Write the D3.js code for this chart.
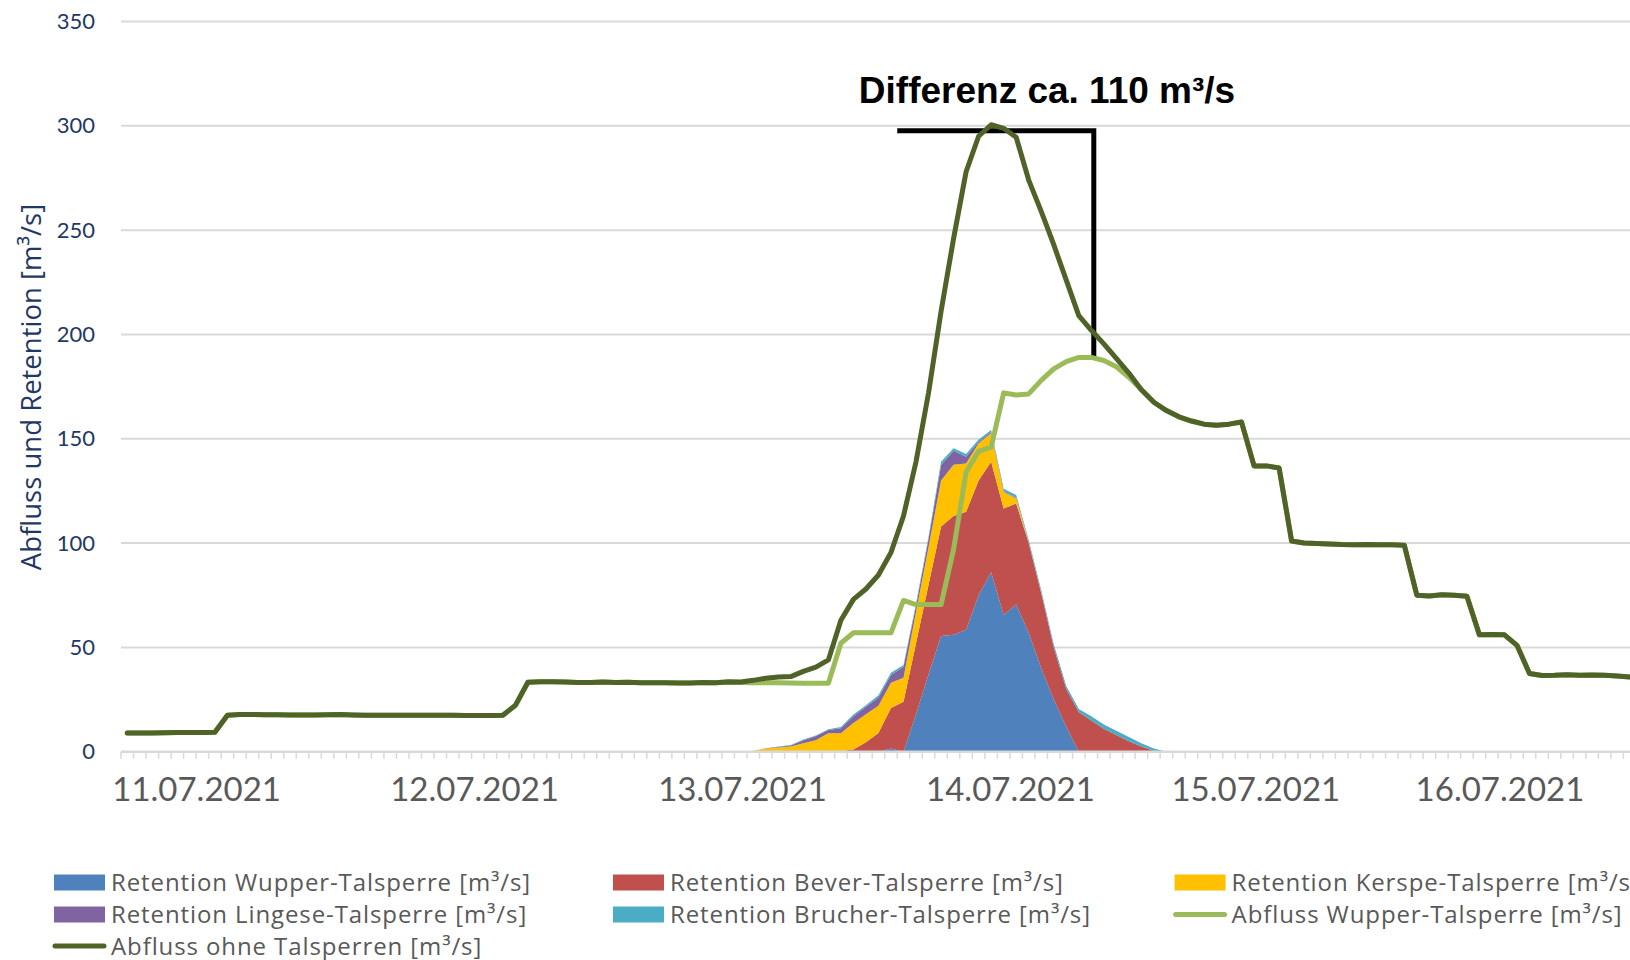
<!DOCTYPE html>
<html>
<head>
  <meta charset="utf-8">
  <title>Abfluss und Retention Wupper</title>
  <script src="https://cdn.jsdelivr.net/npm/d3@7"></script>
  <style>
    body { margin: 0; background: #ffffff; }
    text { font-family: Lato, sans-serif; }
  </style>
</head>
<body>
<script>
  // one category per time step, the date is only written where a day starts
  var nSteps = 121;
  var dayPos = [5.5, 27.7, 49.1, 70.5, 90.1, 109.6];
  var dayLabels = ["11.07.2021", "12.07.2021", "13.07.2021", "14.07.2021", "15.07.2021", "16.07.2021"];
  var yTicks = [0, 50, 100, 150, 200, 250, 300, 350];

  // stacked retention series [m3/s]
  var retWupper = [
    0,0,0,0,0,0,0,0,0,0, 0,0,0,0,0,0,0,0,0,0, 0,0,0,0,0,0,0,0,0,0,
    0,0,0,0,0,0,0,0,0,0, 0,0,0,0,0,0,0,0,0,0,
    0,0,0,0,0,0,0,0,0,0, 0,1.5,0,18,37,55.5,56,58.5,75,86,
    65.5,70.5,57,40,25,12,0,0,0,0, 0,0,0,0,0,0,0,0,0,0,
    0,0,0,0,0,0,0,0,0,0, 0,0,0,0,0,0,0,0,0,0, 0,0,0,0,0,0,0,0,0,0, 0
  ];
  var retBever = [
    0,0,0,0,0,0,0,0,0,0, 0,0,0,0,0,0,0,0,0,0, 0,0,0,0,0,0,0,0,0,0,
    0,0,0,0,0,0,0,0,0,0, 0,0,0,0,0,0,0,0,0,0,
    0,0,0,0,0,0,0,0.3,1,4.5, 9,19.5,24,34,43,52.5,57,56.5,55,53,
    51.1,48.5,43,36,25,18,19,15,11,8, 5,2.5,0.5,0,0,0,0,0,0,0,
    0,0,0,0,0,0,0,0,0,0, 0,0,0,0,0,0,0,0,0,0, 0,0,0,0,0,0,0,0,0,0, 0
  ];
  var retKerspe = [
    0,0,0,0,0,0,0,0,0,0, 0,0,0,0,0,0,0,0,0,0, 0,0,0,0,0,0,0,0,0,0,
    0,0,0,0,0,0,0,0,0,0, 0,0,0,0,0,0,0,0,0,0,
    0.5,1.5,2,2.5,4,5.5,8.8,8.5,12.8,13.5, 13,12,11.5,15,18,22,24.5,23.2,17.8,13.6,
    7.9,2.5,0.3,0.2,0,0,0,0,0,0, 0,0,0,0,0,0,0,0,0,0,
    0,0,0,0,0,0,0,0,0,0, 0,0,0,0,0,0,0,0,0,0, 0,0,0,0,0,0,0,0,0,0, 0
  ];
  var retLingese = [
    0,0,0,0,0,0,0,0,0,0, 0,0,0,0,0,0,0,0,0,0, 0,0,0,0,0,0,0,0,0,0,
    0,0,0,0,0,0,0,0,0,0, 0,0,0,0,0,0,0,0,0,0,
    0,0.1,0.3,0.5,1.5,2,1.6,2.4,3.2,3.5, 4,3.8,5.2,3,4,7.4,6.8,3.2,0.8,0.6,
    0.3,0.3,0.1,0.1,0,0,0,0,0,0, 0,0,0,0,0,0,0,0,0,0,
    0,0,0,0,0,0,0,0,0,0, 0,0,0,0,0,0,0,0,0,0, 0,0,0,0,0,0,0,0,0,0, 0
  ];
  var retBrucher = [
    0,0,0,0,0,0,0,0,0,0, 0,0,0,0,0,0,0,0,0,0, 0,0,0,0,0,0,0,0,0,0,
    0,0,0,0,0,0,0,0,0,0, 0,0,0,0,0,0,0,0,0,0,
    0,0.1,0.2,0.2,0.3,0.3,0.4,0.6,0.8,0.8, 1,1,0.8,1,1,1.6,1.1,1.3,1.1,1,
    1.2,1.2,1.1,1.2,1.5,1.5,1.5,2,2,2, 2,1.5,1,0,0,0,0,0,0,0,
    0,0,0,0,0,0,0,0,0,0, 0,0,0,0,0,0,0,0,0,0, 0,0,0,0,0,0,0,0,0,0, 0
  ];

  // discharge lines [m3/s]
  var abflussWupper = [
    9.0,9.0,9.0,9.1,9.2,9.2,9.2,9.3,17.5,17.8, 17.8,17.7,17.7,17.6,17.6,17.6,17.7,17.8,17.6,17.5,
    17.5,17.5,17.5,17.5,17.5,17.5,17.5,17.4,17.4,17.4, 17.5,22.2,33.3,33.5,33.5,33.4,33.2,33.2,33.4,33.2,
    33.3,33.1,33.1,33.0,32.9,32.9,33.2,33.1,33.3,33.2, 33.0,33.0,33.0,32.9,32.8,32.8,32.8,52.0,57.0,57.0,
    57.0,57.0,72.5,70.5,70.5,70.5,97.0,134.0,144.0,146.0, 172.0,171.0,171.5,178.0,183.5,187.0,189.0,189.0,187.5,184.5,
    179.5,173.5,167.5,163.5,160.5,158.5,157.0,156.5,157.0,158.0, 137.0,137.0,136.0,101.0,100.0,99.8,99.6,99.3,99.2,99.3,
    99.2,99.2,99.0,75.0,74.6,75.2,75.0,74.5,56.0,56.2, 56.0,51.0,37.5,36.5,36.6,36.9,36.7,36.8,36.6,36.3, 35.8
  ];
  var abflussOhne = [
    9.0,9.0,9.0,9.1,9.2,9.2,9.2,9.3,17.5,17.8, 17.8,17.7,17.7,17.6,17.6,17.6,17.7,17.8,17.6,17.5,
    17.5,17.5,17.5,17.5,17.5,17.5,17.5,17.4,17.4,17.4, 17.5,22.2,33.3,33.5,33.5,33.4,33.2,33.2,33.4,33.2,
    33.3,33.1,33.1,33.0,32.9,32.9,33.2,33.1,33.5,33.4, 34.2,35.2,35.8,36.0,38.5,40.5,44.0,63.0,73.0,78.0,
    84.7,95.5,113.0,139.0,172.0,211.0,246.0,278.0,295.0,300.5, 298.8,294.5,274.0,259.0,243.0,226.0,209.0,202.0,195.5,188.5,
    181.5,173.5,167.5,163.5,160.5,158.5,157.0,156.5,157.0,158.0, 137.0,137.0,136.0,101.0,100.0,99.8,99.6,99.3,99.2,99.3,
    99.2,99.2,99.0,75.0,74.6,75.2,75.0,74.5,56.0,56.2, 56.0,51.0,37.5,36.5,36.6,36.9,36.7,36.8,36.6,36.3, 35.8
  ];

  // annotation: bracket from the unregulated peak down to the regulated peak (category position, value)
  var diffText = "Differenz ca. 110 m³/s";
  var bracketIdx = [61.5, 77.2];
  var bracketVal = [297.6, 189.3];

  var areaNames = ["Retention Wupper-Talsperre [m³/s]", "Retention Bever-Talsperre [m³/s]",
    "Retention Kerspe-Talsperre [m³/s]", "Retention Lingese-Talsperre [m³/s]", "Retention Brucher-Talsperre [m³/s]"];
  var areaColors = ["#4F81BD", "#C0504D", "#FFC000", "#8064A2", "#4BACC6"];
  var lineNames = ["Abfluss Wupper-Talsperre [m³/s]", "Abfluss ohne Talsperren [m³/s]"];
  var lineColors = ["#9BBB59", "#4F6228"];

  var W = 1630, H = 960;
  var plotLeft = 121, plotTop = 21.5, plotBottom = 751.7, step = 12.52;

  var steps = d3.range(nSteps);
  var keys = ["wupper", "bever", "kerspe", "lingese", "brucher"];
  var series = [retWupper, retBever, retKerspe, retLingese, retBrucher];
  var table = steps.map(function (i) {
    var row = { i: i };
    keys.forEach(function (k, j) { row[k] = series[j][i]; });
    return row;
  });

  var svg = d3.select("body").append("svg")
    .attr("width", W)
    .attr("height", H)
    .style("display", "block");

  svg.append("rect").attr("width", W).attr("height", H).attr("fill", "#ffffff");

  // band scale: points sit in the middle of each step, the chart is cut at the right edge
  var x = d3.scaleBand()
    .domain(steps)
    .range([plotLeft, plotLeft + nSteps * step])
    .padding(0);

  var y = d3.scaleLinear()
    .domain([0, 350])
    .range([plotBottom, plotTop]);

  function xc(i) { return x(i) + x.bandwidth() / 2; }

  // continuous version of the category axis, for labels and the annotation
  var xPos = d3.scaleLinear()
    .domain([0, nSteps - 1])
    .range([xc(0), xc(nSteps - 1)]);

  // horizontal gridlines
  svg.append("g").selectAll("line")
    .data(yTicks.slice(1))
    .enter().append("line")
    .attr("x1", plotLeft).attr("x2", W)
    .attr("y1", function (d) { return y(d); })
    .attr("y2", function (d) { return y(d); })
    .attr("stroke", "#D9D9D9")
    .attr("stroke-width", 2);

  // stacked retention areas
  var stacked = d3.stack().keys(keys)(table);
  var area = d3.area()
    .x(function (d) { return xc(d.data.i); })
    .y0(function (d) { return y(d[0]); })
    .y1(function (d) { return y(d[1]); });

  svg.append("g").selectAll("path")
    .data(stacked)
    .enter().append("path")
    .attr("d", area)
    .attr("fill", function (d, j) { return areaColors[j]; });

  // x axis line and small ticks between the steps
  svg.append("line")
    .attr("x1", plotLeft).attr("x2", W)
    .attr("y1", y(0)).attr("y2", y(0))
    .attr("stroke", "#D9D9D9")
    .attr("stroke-width", 2.5);

  svg.append("g").selectAll("line")
    .data(steps)
    .enter().append("line")
    .attr("x1", function (d) { return x(d); })
    .attr("x2", function (d) { return x(d); })
    .attr("y1", y(0)).attr("y2", y(0) + 7)
    .attr("stroke", "#D9D9D9")
    .attr("stroke-width", 1.5);

  var xAxis = d3.axisBottom(xPos)
    .tickValues(dayPos)
    .tickSize(0)
    .tickFormat(function (d, k) { return dayLabels[k]; });

  var gx = svg.append("g")
    .attr("transform", "translate(0," + y(0) + ")")
    .call(xAxis);
  gx.select(".domain").remove();
  gx.selectAll("text")
    .attr("y", 49)
    .attr("dy", 0)
    .style("font-family", "Lato, sans-serif")
    .style("font-size", "33px")
    .style("fill", "#595959");

  var yAxis = d3.axisLeft(y)
    .tickValues(yTicks)
    .tickSize(0)
    .tickPadding(26);

  var gy = svg.append("g")
    .attr("transform", "translate(" + plotLeft + ",0)")
    .call(yAxis);
  gy.select(".domain").remove();
  gy.selectAll("text")
    .style("font-family", "Lato, sans-serif")
    .style("font-size", "22px")
    .style("fill", "#1F3864");

  svg.append("text")
    .attr("transform", "translate(41,387) rotate(-90)")
    .attr("text-anchor", "middle")
    .style("font-family", "'Open Sans', sans-serif")
    .style("font-size", "27.5px")
    .style("fill", "#1F3864")
    .text("Abfluss und Retention [m³/s]");

  // difference bracket, drawn below the lines
  svg.append("path")
    .attr("d", "M" + xPos(bracketIdx[0]) + "," + y(bracketVal[0]) +
      "H" + xPos(bracketIdx[1]) + "V" + y(bracketVal[1]))
    .attr("fill", "none")
    .attr("stroke", "#000000")
    .attr("stroke-width", 5)
    .attr("stroke-linejoin", "miter");

  svg.append("text")
    .attr("x", 1047)
    .attr("y", 103)
    .attr("text-anchor", "middle")
    .style("font-family", "'Liberation Sans', Arial, sans-serif")
    .style("font-weight", "bold")
    .style("font-size", "37px")
    .style("fill", "#000000")
    .text(diffText);

  // discharge lines
  var line = d3.line()
    .x(function (d, i) { return xc(i); })
    .y(function (d) { return y(d); });

  [abflussWupper, abflussOhne].forEach(function (vals, j) {
    svg.append("path")
      .datum(vals)
      .attr("d", line)
      .attr("fill", "none")
      .attr("stroke", lineColors[j])
      .attr("stroke-width", 5)
      .attr("stroke-linejoin", "round")
      .attr("stroke-linecap", "round");
  });

  // legend, three columns
  var legendItems = areaNames.map(function (n, j) { return { name: n, color: areaColors[j], type: "area" }; })
    .concat(lineNames.map(function (n, j) { return { name: n, color: lineColors[j], type: "line" }; }));
  var colX = [54, 613, 1174.6];
  var rowY = [882.5, 914.5, 946];

  var legend = svg.append("g").selectAll("g")
    .data(legendItems)
    .enter().append("g")
    .attr("transform", function (d, k) {
      return "translate(" + colX[k % 3] + "," + rowY[Math.floor(k / 3)] + ")";
    });

  legend.filter(function (d) { return d.type === "area"; })
    .append("rect")
    .attr("x", 0).attr("y", -8)
    .attr("width", 51).attr("height", 16)
    .attr("fill", function (d) { return d.color; });

  legend.filter(function (d) { return d.type === "line"; })
    .append("line")
    .attr("x1", 1).attr("x2", 50)
    .attr("y1", 0).attr("y2", 0)
    .attr("stroke", function (d) { return d.color; })
    .attr("stroke-width", 5)
    .attr("stroke-linecap", "round");

  legend.append("text")
    .attr("x", 57)
    .attr("y", 8.5)
    .style("font-family", "'Open Sans', sans-serif")
    .style("font-size", "24px")
    .style("letter-spacing", "0.9px")
    .style("fill", "#595959")
    .text(function (d) { return d.name; });
</script>
</body>
</html>
